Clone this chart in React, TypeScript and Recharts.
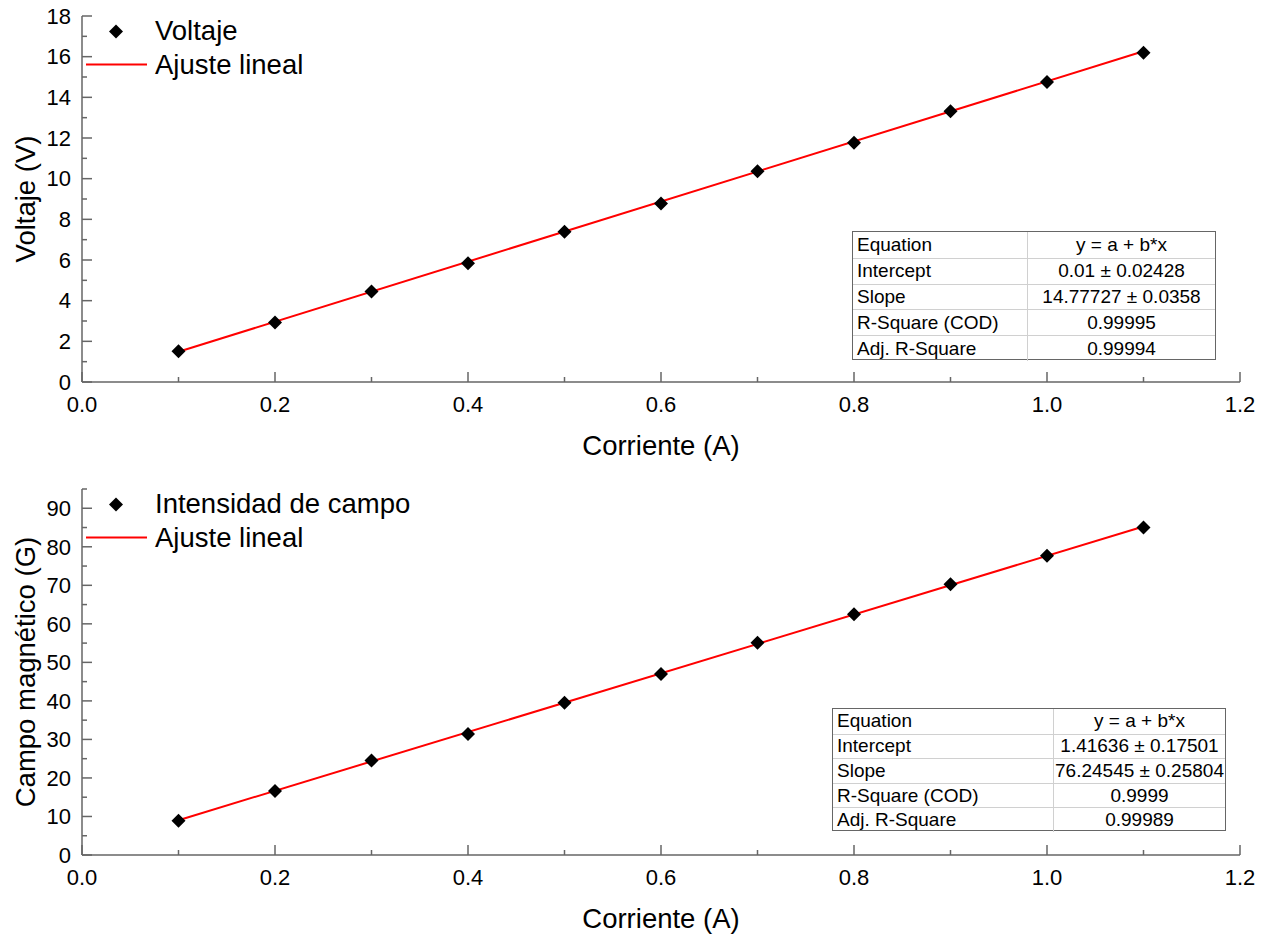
import React from 'react';
import { ComposedChart, Scatter, Line, XAxis, YAxis } from 'recharts';

const FONT = '"Liberation Sans", Arial, Helvetica, sans-serif';
const AXIS = '#666';

// Corriente (A) for both measurement sets
const corriente = [0.1, 0.2, 0.3, 0.4, 0.5, 0.6, 0.7, 0.8, 0.9, 1.0, 1.1];
const voltaje = [1.51, 2.93, 4.45, 5.84, 7.39, 8.78, 10.37, 11.77, 13.31, 14.75, 16.19];
const campo = [8.9, 16.6, 24.5, 31.4, 39.5, 47.0, 55.1, 62.5, 70.3, 77.7, 85.0];

// Linear fit results (y = a + b*x)
const fitRange = [0.1, 1.1];
const voltajeFit = { a: 0.01, b: 14.77727 };
const campoFit = { a: 1.41636, b: 76.24545 };

const voltajeTable = [
  ['Equation', 'y = a + b*x'],
  ['Intercept', '0.01 ± 0.02428'],
  ['Slope', '14.77727 ± 0.0358'],
  ['R-Square (COD)', '0.99995'],
  ['Adj. R-Square', '0.99994'],
];
const campoTable = [
  ['Equation', 'y = a + b*x'],
  ['Intercept', '1.41636 ± 0.17501'],
  ['Slope', '76.24545 ± 0.25804'],
  ['R-Square (COD)', '0.9999'],
  ['Adj. R-Square', '0.99989'],
];

const xTicks = [0, 0.1, 0.2, 0.3, 0.4, 0.5, 0.6, 0.7, 0.8, 0.9, 1.0, 1.1, 1.2];
const voltajeTicks = [0, 1, 2, 3, 4, 5, 6, 7, 8, 9, 10, 11, 12, 13, 14, 15, 16, 17, 18];
const campoTicks = [0, 5, 10, 15, 20, 25, 30, 35, 40, 45, 50, 55, 60, 65, 70, 75, 80, 85, 90, 95];

const W = 1267;
const H = 467;
const MAJOR = 10;
const MINOR = 5;

const xMajor = (v: number) => Math.round(v * 10) % 2 === 0;

const Diamond = (props: any) => {
  const { cx, cy } = props;
  const r = 7;
  return <path d={`M${cx},${cy - r}L${cx + r},${cy}L${cx},${cy + r}L${cx - r},${cy}Z`} fill="#000" />;
};

const makeTick = (side: 'bottom' | 'top' | 'left' | 'right', isMajor: (v: number) => boolean, fmt?: (v: number) => string) =>
  (props: any) => {
    const { x, y, payload } = props;
    const v = payload.value as number;
    const len = isMajor(v) ? MAJOR : MINOR;
    let line;
    if (side === 'bottom') line = <line x1={x} y1={y} x2={x} y2={y - len} />;
    else if (side === 'top') line = <line x1={x} y1={y} x2={x} y2={y + len} />;
    else if (side === 'left') line = <line x1={x} y1={y} x2={x + len} y2={y} />;
    else line = <line x1={x} y1={y} x2={x - len} y2={y} />;
    return (
      <g>
        <g stroke={AXIS} strokeWidth={1.5}>{line}</g>
        {fmt && isMajor(v) && side === 'bottom' && (
          <text x={x} y={y + 30} textAnchor="middle" fontSize={22} fontFamily={FONT} fill="#000">
            {fmt(v)}
          </text>
        )}
        {fmt && isMajor(v) && side === 'left' && (
          <text x={x - 11} y={y} dy="0.355em" textAnchor="end" fontSize={22} fontFamily={FONT} fill="#000">
            {fmt(v)}
          </text>
        )}
      </g>
    );
  };

interface FitTableProps {
  rows: string[][];
  left: number;
  top: number;
  width: number;
  height: number;
  col1: number;
}

function FitTable({ rows, left, top, width, height, col1 }: FitTableProps) {
  const rh = height / rows.length;
  return (
    <div
      style={{
        position: 'absolute', left, top, width, height, boxSizing: 'border-box',
        border: `1.5px solid ${AXIS}`, background: '#fff', fontFamily: FONT, fontSize: 19, color: '#000',
      }}
    >
      {rows.map((r, i) => (
        <div
          key={r[0]}
          style={{
            display: 'flex', height: rh, boxSizing: 'border-box',
            borderTop: i === 0 ? 'none' : '1px solid #d0d0d0', alignItems: 'center',
          }}
        >
          <div style={{ width: col1, paddingLeft: 4, boxSizing: 'border-box', borderRight: '1px solid #d0d0d0', height: '100%', display: 'flex', alignItems: 'center' }}>
            {r[0]}
          </div>
          <div style={{ flex: 1, textAlign: 'center' }}>{r[1]}</div>
        </div>
      ))}
    </div>
  );
}

interface PanelProps {
  top: number;
  plotTop: number;
  values: number[];
  fit: { a: number; b: number };
  yMax: number;
  yTicks: number[];
  yMajorStep: number;
  yTitle: string;
  seriesName: string;
  table: string[][];
  tableBox: { left: number; top: number; width: number; height: number; col1: number };
}

function Panel({ top, plotTop, values, fit, yMax, yTicks, yMajorStep, yTitle, seriesName, table, tableBox }: PanelProps) {
  const points = corriente.map((x, i) => ({ x, y: values[i] }));
  const fitLine = fitRange.map((x) => ({ x, y: fit.a + fit.b * x }));
  const yMajor = (v: number) => Math.round(v) % yMajorStep === 0;
  const plotBottom = plotTop + 366;

  return (
    <div style={{ position: 'absolute', left: 0, top, width: W, height: H }}>
      <ComposedChart width={W} height={H} margin={{ top: plotTop, right: 27, bottom: H - plotBottom - 75, left: 0 }}>
        <XAxis
          xAxisId="b" dataKey="x" type="number" domain={[0, 1.2]} ticks={xTicks} interval={0}
          allowDataOverflow height={75} tickSize={0} tickMargin={0} tickLine={false}
          axisLine={{ stroke: AXIS, strokeWidth: 1.5 }}
          tick={makeTick('bottom', xMajor, (v) => v.toFixed(1))}
          label={{ value: 'Corriente (A)', position: 'insideBottom', offset: 2, fontSize: 27.5, fill: '#000', fontFamily: FONT }}
        />
        <XAxis
          xAxisId="t" orientation="top" dataKey="x" type="number" domain={[0, 1.2]} ticks={xTicks} interval={0}
          allowDataOverflow height={0} tickSize={0} tickMargin={0} tickLine={false}
          axisLine={{ stroke: AXIS, strokeWidth: 1.5 }}
          tick={makeTick('top', xMajor)}
        />
        <YAxis
          yAxisId="l" dataKey="y" type="number" domain={[0, yMax]} ticks={yTicks} interval={0}
          allowDataOverflow width={82} tickSize={0} tickMargin={0} tickLine={false}
          axisLine={{ stroke: AXIS, strokeWidth: 1.5 }}
          tick={makeTick('left', yMajor, (v) => String(v))}
          label={{ value: yTitle, angle: -90, position: 'insideLeft', offset: 25, fontSize: 27.5, fill: '#000', fontFamily: FONT, style: { textAnchor: 'middle' } }}
        />
        <YAxis
          yAxisId="r" orientation="right" dataKey="y" type="number" domain={[0, yMax]} ticks={yTicks} interval={0}
          allowDataOverflow width={0} tickSize={0} tickMargin={0} tickLine={false}
          axisLine={{ stroke: AXIS, strokeWidth: 1.5 }}
          tick={makeTick('right', yMajor)}
        />
        <Scatter
          xAxisId="b" yAxisId="l" data={points} dataKey="y" name={seriesName}
          shape={<Diamond />} isAnimationActive={false}
        />
        <Line
          xAxisId="b" yAxisId="l" data={fitLine} dataKey="y" name="Ajuste lineal"
          type="linear" stroke="#ff0000" strokeWidth={2} dot={false} activeDot={false} isAnimationActive={false}
        />
      </ComposedChart>

      {/* legend */}
      <svg style={{ position: 'absolute', left: 0, top: 0 }} width={420} height={plotTop + 70}>
        <Diamond cx={116} cy={plotTop + 15.5} />
        <text x={155} y={plotTop + 24} fontSize={27.5} fontFamily={FONT} fill="#000">{seriesName}</text>
        <line x1={86} x2={147} y1={plotTop + 48.5} y2={plotTop + 48.5} stroke="#ff0000" strokeWidth={2} />
        <text x={155} y={plotTop + 57.5} fontSize={27.5} fontFamily={FONT} fill="#000">Ajuste lineal</text>
      </svg>

      <FitTable rows={table} {...tableBox} />
    </div>
  );
}

export default function App() {
  return (
    <div style={{ position: 'absolute', left: 0, top: 0, width: W, height: 934, background: '#fff', fontFamily: FONT }}>
      <Panel
        top={0} plotTop={16} values={voltaje} fit={voltajeFit} yMax={18} yTicks={voltajeTicks} yMajorStep={2}
        yTitle="Voltaje (V)" seriesName="Voltaje" table={voltajeTable}
        tableBox={{ left: 852, top: 231, width: 364, height: 129, col1: 175 }}
      />
      <Panel
        top={467} plotTop={22} values={campo} fit={campoFit} yMax={95} yTicks={campoTicks} yMajorStep={10}
        yTitle="Campo magnético (G)" seriesName="Intensidad de campo" table={campoTable}
        tableBox={{ left: 832, top: 241, width: 394, height: 123, col1: 221 }}
      />
    </div>
  );
}
